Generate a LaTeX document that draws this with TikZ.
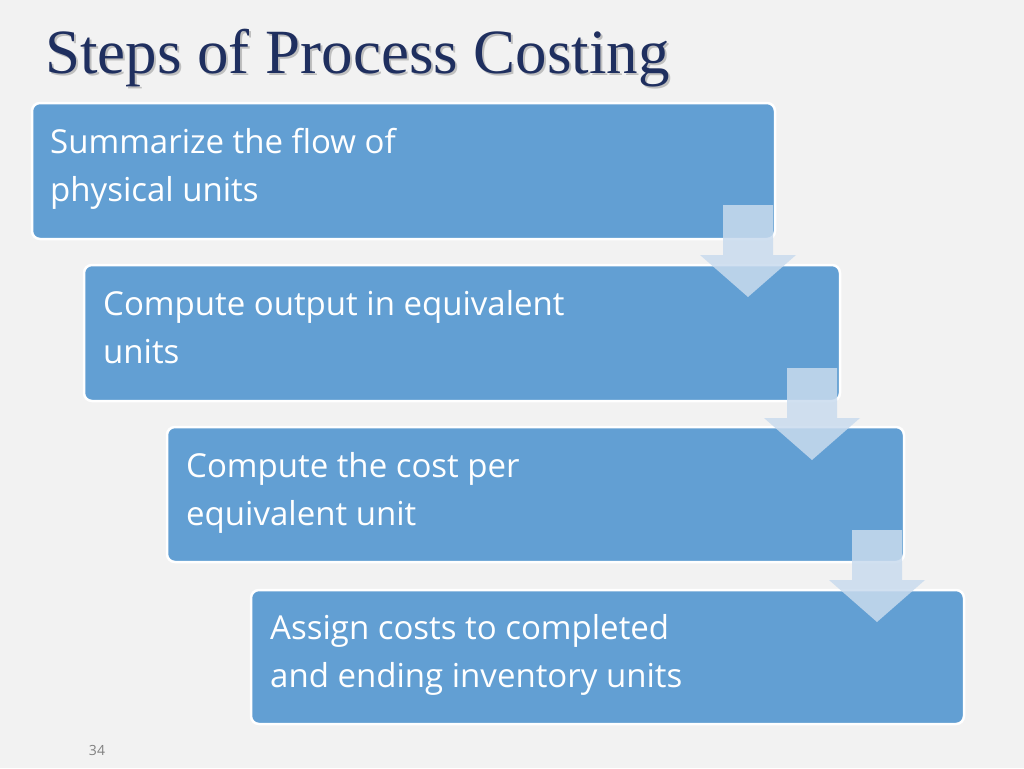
\documentclass[tikz,border=0pt]{standalone}
\usepackage{fontspec}
\setmainfont{Open Sans}
\newfontfamily\titlefont{Liberation Serif}
\definecolor{bg}{HTML}{F2F2F2}
\definecolor{boxblue}{HTML}{629FD3}
\definecolor{arrblue}{HTML}{C9DBEE}
\definecolor{navy}{HTML}{1F2F5F}
\begin{document}
\begin{tikzpicture}[x=1pt,y=-1pt,
  stepbox/.style={draw=white,line width=2.5pt,fill=boxblue,rounded corners=8pt},
  steptext/.style={anchor=north west,align=left,text=white,font=\fontsize{33}{48}\selectfont,inner sep=0pt},
  downarr/.style={fill=arrblue,fill opacity=0.85,draw=none}]
\fill[bg] (0,0) rectangle (1024,768);
\useasboundingbox (0,0) rectangle (1024,768);
\node[anchor=west,text=gray!50,font=\titlefont\fontsize{63}{63}\selectfont,inner sep=0pt] at (47,60) {Steps of Process Costing};
\node[anchor=west,text=navy,font=\titlefont\fontsize{63}{63}\selectfont,inner sep=0pt] (title) at (45,58) {Steps of Process Costing};
\draw[stepbox] (32,103) rectangle (775,239);
\draw[stepbox] (84,265) rectangle (840,401);
\draw[stepbox] (167,427) rectangle (904,562);
\draw[stepbox] (251,590) rectangle (964,724);
\node[steptext] (t1) at (50,128) {Summarize the flow of\\physical units};
\node[steptext] (t2) at (103,290) {Compute output in equivalent\\units};
\node[steptext] (t3) at (186,452) {Compute the cost per\\equivalent unit};
\node[steptext] (t4) at (270,614) {Assign costs to completed\\and ending inventory units};
\foreach \x/\y [count=\i] in {748/205,812/368,877/530}{
  \fill[downarr] (\x-25,\y) -- (\x+25,\y) -- (\x+25,\y+50) -- (\x+48,\y+50) -- (\x,\y+92) -- (\x-48,\y+50) -- (\x-25,\y+50) -- cycle;
}
\node[text=gray,font=\fontsize{14}{14}\selectfont,inner sep=0pt] (pg) at (97,750) {34};
\end{tikzpicture}
\end{document}
